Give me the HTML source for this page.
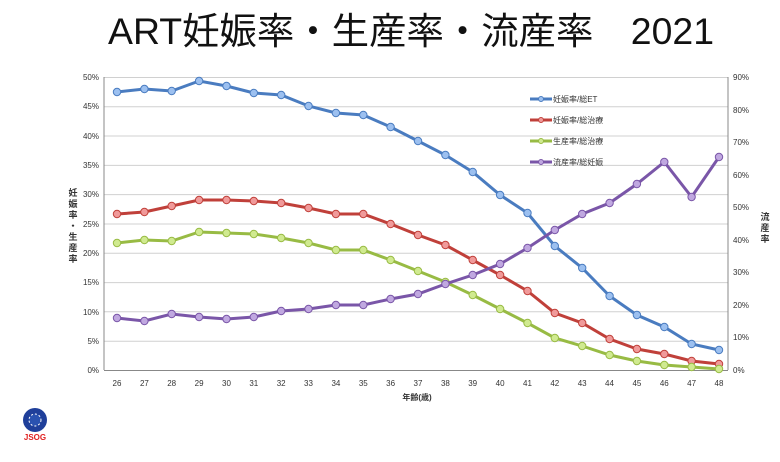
<!DOCTYPE html>
<html><head><meta charset="utf-8"><style>
body{margin:0;background:#fff;width:780px;height:457px;overflow:hidden}
text{font-family:"Liberation Sans","Noto Sans CJK JP",sans-serif}
</style></head><body>
<svg width="780" height="457" xmlns="http://www.w3.org/2000/svg">
<text x="411" y="44" font-size="37" text-anchor="middle" fill="#111" textLength="606" lengthAdjust="spacingAndGlyphs">ART妊娠率・生産率・流産率　2021</text>
<g stroke="#d0d0d0" stroke-width="1">
<line x1="104" x2="728" y1="77.5" y2="77.5"/><line x1="104" x2="728" y1="136" y2="136"/><line x1="104" x2="728" y1="194.6" y2="194.6"/><line x1="104" x2="728" y1="253.2" y2="253.2"/><line x1="104" x2="728" y1="311.8" y2="311.8"/>
<line x1="104" x2="728" y1="106.8" y2="106.8"/><line x1="104" x2="728" y1="165.4" y2="165.4"/><line x1="104" x2="728" y1="224" y2="224"/><line x1="104" x2="728" y1="282.6" y2="282.6"/><line x1="104" x2="728" y1="341.2" y2="341.2"/>
</g>
<g stroke="#888" stroke-width="1"><line x1="104" x2="104" y1="77" y2="370"/><line x1="728" x2="728" y1="77" y2="370"/><line x1="104" x2="728" y1="370.5" y2="370.5"/></g>
<g font-size="8" fill="#333" text-anchor="end">
<text x="99" y="80">50%</text><text x="99" y="109">45%</text><text x="99" y="139">40%</text><text x="99" y="168">35%</text><text x="99" y="197">30%</text><text x="99" y="227">25%</text><text x="99" y="256">20%</text><text x="99" y="285">15%</text><text x="99" y="315">10%</text><text x="99" y="344">5%</text><text x="99" y="373">0%</text>
</g>
<g font-size="8" fill="#333" text-anchor="start">
<text x="733" y="80">90%</text><text x="733" y="113">80%</text><text x="733" y="145">70%</text><text x="733" y="178">60%</text><text x="733" y="210">50%</text><text x="733" y="243">40%</text><text x="733" y="275">30%</text><text x="733" y="308">20%</text><text x="733" y="340">10%</text><text x="733" y="373">0%</text>
</g>
<g font-size="8" fill="#333" text-anchor="middle">
<text x="117" y="386">26</text><text x="144.4" y="386">27</text><text x="171.7" y="386">28</text><text x="199.1" y="386">29</text><text x="226.5" y="386">30</text><text x="253.8" y="386">31</text><text x="281.2" y="386">32</text><text x="308.5" y="386">33</text><text x="335.9" y="386">34</text><text x="363.3" y="386">35</text><text x="390.6" y="386">36</text><text x="418" y="386">37</text><text x="445.4" y="386">38</text><text x="472.7" y="386">39</text><text x="500.1" y="386">40</text><text x="527.5" y="386">41</text><text x="554.8" y="386">42</text><text x="582.2" y="386">43</text><text x="609.5" y="386">44</text><text x="636.9" y="386">45</text><text x="664.3" y="386">46</text><text x="691.6" y="386">47</text><text x="719" y="386">48</text>
<text x="417" y="400" font-weight="bold">年齢(歳)</text>
</g>
<g font-size="9" font-weight="bold" fill="#333" text-anchor="middle">
<text x="73" y="196">妊</text><text x="73" y="207">娠</text><text x="73" y="218">率</text><text x="73" y="229">・</text><text x="73" y="240">生</text><text x="73" y="251">産</text><text x="73" y="262">率</text>
<text x="765" y="220">流</text><text x="765" y="231">産</text><text x="765" y="242">率</text>
</g>
<g id="series"></g>
<g font-size="8" fill="#333">
<line x1="530" x2="552" y1="99" y2="99" stroke="#4a7cc0" stroke-width="3"/><circle cx="541" cy="99" r="2.5" fill="#9cc0f0" stroke="#4a7cc0"/><text x="553" y="102">妊娠率/総ET</text>
<line x1="530" x2="552" y1="120" y2="120" stroke="#c0403a" stroke-width="3"/><circle cx="541" cy="120" r="2.5" fill="#f09a9a" stroke="#c0403a"/><text x="553" y="123">妊娠率/総治療</text>
<line x1="530" x2="552" y1="141" y2="141" stroke="#98bb44" stroke-width="3"/><circle cx="541" cy="141" r="2.5" fill="#d0ea90" stroke="#98bb44"/><text x="553" y="144">生産率/総治療</text>
<line x1="530" x2="552" y1="162" y2="162" stroke="#7a56a8" stroke-width="3"/><circle cx="541" cy="162" r="2.5" fill="#c0a8e0" stroke="#7a56a8"/><text x="553" y="165">流産率/総妊娠</text>
</g>
<circle cx="35" cy="420" r="12" fill="#1f3f9a"/>
<circle cx="35" cy="420" r="6" fill="#2a52b0" stroke="#fff" stroke-width="1" stroke-dasharray="2 2"/>
<text x="35" y="440" font-size="8" font-weight="bold" fill="#e02020" text-anchor="middle" font-family="Liberation Serif">JSOG</text>
</svg>
<script>
var d=[[92,89,91,81,86,93,95,106,113,115,127,141,155,172,195,213,246,268,296,315,327,344,350,"#4a7cc0","#9cc0f0"],
[214,212,206,200,200,201,203,208,214,214,224,235,245,260,275,291,313,323,339,349,354,361,364,"#c0403a","#f09a9a"],
[243,240,241,232,233,234,238,243,250,250,260,271,282,295,309,323,338,346,355,361,365,367,369,"#98bb44","#d0ea90"],
[318,321,314,317,319,317,311,309,305,305,299,294,284,275,264,248,230,214,203,184,162,197,157,"#7a56a8","#c0a8e0"]];
var g=document.getElementById('series'),s="";
d.forEach(function(r){var p=[];for(var i=0;i<23;i++)p.push((117+i*27.364).toFixed(1)+","+r[i]);
s+='<polyline points="'+p.join(" ")+'" fill="none" stroke="'+r[23]+'" stroke-width="3"/>';
p.forEach(function(q){var c=q.split(",");s+='<circle cx="'+c[0]+'" cy="'+c[1]+'" r="3.7" fill="'+r[24]+'" stroke="'+r[23]+'" stroke-width="1"/>';});});
g.innerHTML=s;
</script>
</body></html>
